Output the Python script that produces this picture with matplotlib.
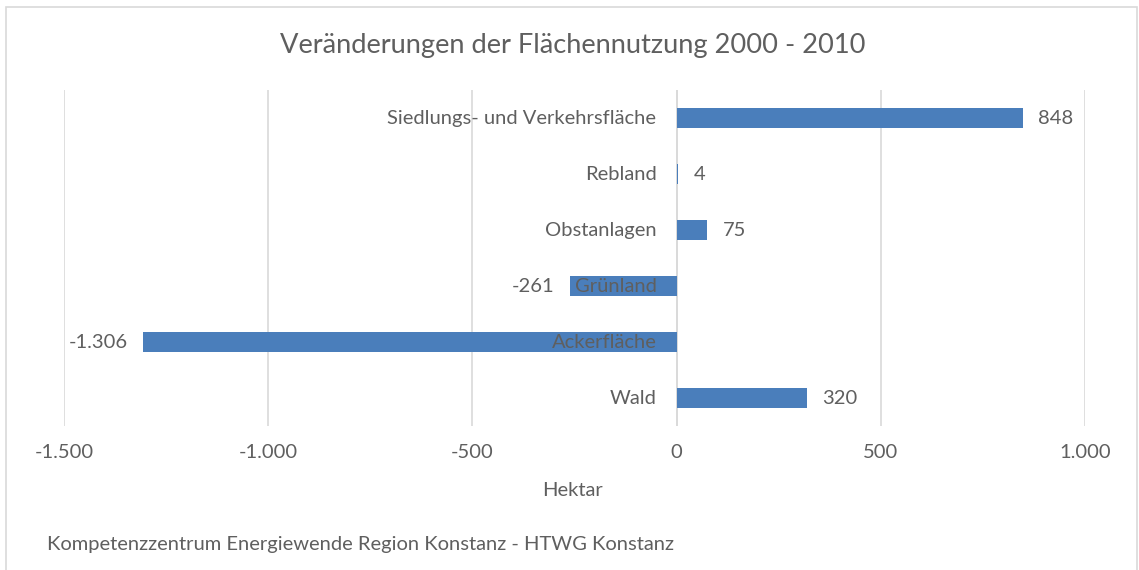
import matplotlib
matplotlib.use('Agg')

import numpy as np
import matplotlib.pyplot as plt
from matplotlib.patches import Rectangle

plt.rcParams['font.family'] = ['Lato', 'DejaVu Sans']

kategorien = ['Wald', 'Ackerfläche', 'Grünland', 'Obstanlagen', 'Rebland',
              'Siedlungs- und Verkehrsfläche']
werte = [320, -1306, -261, 75, 4, 848]
xticks = [-1500, -1000, -500, 0, 500, 1000]
xticklabels = ['-1.500', '-1.000', '-500', '0', '500', '1.000']

grau = '#5f5f5f'
blau = '#4a7ebb'
fs = 14.5

fig = plt.figure(figsize=(11.39, 5.70), dpi=100)
ax = fig.add_axes([0.0562, 0.2526, 0.8964, 0.5895])

ind = np.arange(len(kategorien))
ax.barh(ind, werte, height=0.36, color=blau, zorder=3)

ax.set_xlim(-1500, 1000)
ax.set_ylim(-0.5, 5.5)
ax.set_xticks(xticks)
ax.set_xticklabels(xticklabels, fontsize=fs, color=grau)
ax.set_yticks([])
ax.tick_params(axis='x', length=0, pad=13)
ax.grid(axis='x', color='#d9d9d9', linewidth=1.2, zorder=0)
for s in ax.spines.values():
    s.set_visible(False)
ax.axvline(0, color='#d9d9d9', linewidth=1.2, zorder=1)

# category labels next to the zero axis, like Excel
for i, name in enumerate(kategorien):
    ax.annotate(name, (0, i), xytext=(-14.5, 0), textcoords='offset points',
                ha='right', va='center', fontsize=fs, color=grau, zorder=4)

# data labels
for i, v in enumerate(werte):
    txt = ('%d' % v).replace('-1306', '-1.306')
    if v >= 0:
        ax.annotate(txt, (v, i), xytext=(11, 0), textcoords='offset points',
                    ha='left', va='center', fontsize=fs, color=grau)
    else:
        ax.annotate(txt, (v, i), xytext=(-11, 0), textcoords='offset points',
                    ha='right', va='center', fontsize=fs, color=grau)

fig.text(0.503, 0.921, 'Veränderungen der Flächennutzung 2000 - 2010',
         ha='center', va='center', fontsize=19.6, color=grau)
fig.text(0.503, 0.14, 'Hektar', ha='center', va='center', fontsize=fs, color=grau)
fig.text(0.041, 0.045, 'Kompetenzzentrum Energiewende Region Konstanz - HTWG Konstanz',
         ha='left', va='center', fontsize=fs, color=grau)

fig.patches.append(Rectangle((6 / 1139, -0.05), 1131 / 1139, 1.05 - 7 / 570,
                             transform=fig.transFigure, fill=False,
                             edgecolor='#d9d9d9', linewidth=1.2))

plt.savefig('out.png', dpi=100)
